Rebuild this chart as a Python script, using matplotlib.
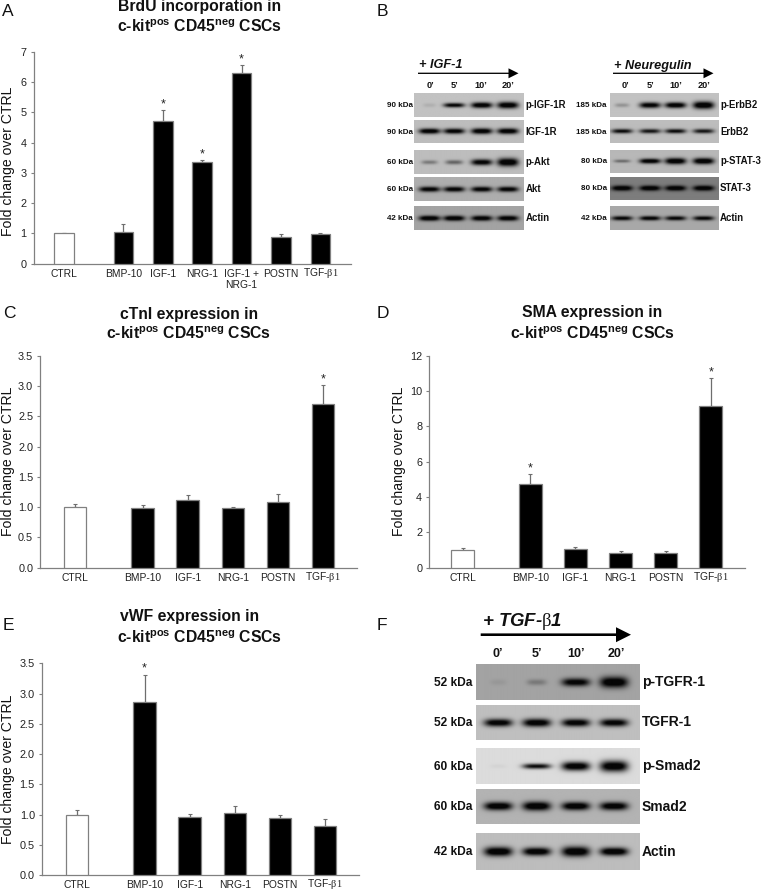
import numpy as np
import matplotlib
matplotlib.use("Agg")
import matplotlib.pyplot as plt
from matplotlib.patches import FancyArrow
from matplotlib.transforms import ScaledTranslation

plt.rcParams['font.family'] = ['Liberation Sans', 'DejaVu Sans']
plt.rcParams['mathtext.fontset'] = 'custom'
plt.rcParams['mathtext.rm'] = 'Liberation Serif'
plt.rcParams['mathtext.it'] = 'Liberation Serif:italic'
plt.rcParams['mathtext.bf'] = 'Liberation Serif:bold'

# bar data
beta = r"TGF-$\mathrm{\beta1}$"
labels_a = ["CTRL", "BMP-10", "IGF-1", "NRG-1", "IGF-1 +\nNRG-1", "POSTN", beta]
vals_a = [1.0, 1.05, 4.70, 3.37, 6.30, 0.89, 0.98]
errs_a = [0.03, 0.25, 0.36, 0.04, 0.25, 0.08, 0.05]
sig_a = [2, 3, 4]

labels_cde = ["CTRL", "BMP-10", "IGF-1", "NRG-1", "POSTN", beta]
vals_c = [1.0, 0.98, 1.12, 0.99, 1.08, 2.71]
errs_c = [0.05, 0.05, 0.08, 0.02, 0.14, 0.30]
sig_c = [5]

vals_d = [1.0, 4.72, 1.05, 0.84, 0.82, 9.18]
errs_d = [0.10, 0.56, 0.15, 0.10, 0.12, 1.53]
sig_d = [1, 5]

vals_e = [1.0, 2.86, 0.96, 1.03, 0.94, 0.82]
errs_e = [0.07, 0.45, 0.06, 0.11, 0.06, 0.11]
sig_e = [1]

# blot data, darkness of each band per lane (0', 5', 10', 20')
times = ["0’", "5’", "10’", "20’"]

names_b1 = ["p-IGF-1R", "IGF-1R", "p-Akt", "Akt", "Actin"]
kda_b1 = ["90 kDa", "90 kDa", "60 kDa", "60 kDa", "42 kDa"]
bands_b1 = [[0.08, 0.85, 0.95, 0.95],
            [0.95, 0.90, 0.95, 0.95],
            [0.30, 0.40, 0.90, 1.00],
            [0.90, 0.90, 0.90, 0.90],
            [1.00, 1.00, 0.95, 0.95]]

names_b2 = ["p-ErbB2", "ErbB2", "p-STAT-3", "STAT-3", "Actin"]
kda_b2 = ["185 kDa", "185 kDa", "80 kDa", "80 kDa", "42 kDa"]
bands_b2 = [[0.20, 0.90, 0.95, 1.00],
            [0.80, 0.75, 0.80, 0.75],
            [0.35, 0.95, 1.00, 1.00],
            [1.00, 1.00, 1.00, 1.00],
            [0.85, 0.90, 0.85, 0.85]]

names_f = ["p-TGFR-1", "TGFR-1", "p-Smad2", "Smad2", "Actin"]
kda_f = ["52 kDa", "52 kDa", "60 kDa", "60 kDa", "42 kDa"]
bands_f = [[0.06, 0.22, 0.90, 1.00],
           [0.92, 0.95, 0.92, 0.90],
           [0.03, 0.80, 0.95, 0.95],
           [0.98, 1.00, 0.98, 0.95],
           [1.00, 0.98, 1.00, 1.00]]

W, H = 761, 890
fig = plt.figure(figsize=(W / 100, H / 100), dpi=100, facecolor='white')


def px_axes(x0, y0, x1, y1):
    return fig.add_axes([x0 / W, 1 - y1 / H, (x1 - x0) / W, (y1 - y0) / H])


grey = '#808080'
overlay = px_axes(0, 0, W, H)
overlay.set_xlim(0, W)
overlay.set_ylim(H, 0)
overlay.axis('off')
overlay.set_zorder(5)


def bar_panel(box, labels, vals, errs, sig, ymax, yticks, fmt, step, ctrl_px, ylab_x, ylab_y):
    x0, y0, x1, y1 = box
    ax = px_axes(x0, y0, x1, y1)
    ax.patch.set_alpha(0)
    pos = np.array([0] + [1.5 + i for i in range(len(vals) - 1)])
    ax.set_xlim((x0 - ctrl_px) / step, (x1 - ctrl_px) / step)
    ax.set_ylim(0, ymax)
    colors = ['white'] + ['black'] * (len(vals) - 1)
    ax.bar(pos, vals, width=0.5, color=colors, edgecolor=grey, linewidth=0.9, zorder=3)
    ax.errorbar(pos, vals, yerr=[np.zeros(len(errs)), errs], fmt='none', ecolor='#6e6e6e',
                elinewidth=0.9, capsize=1.6, capthick=0.8, zorder=2)
    for i in sig:
        ax.annotate("*", (pos[i], vals[i] + errs[i]), xytext=(0, 0), textcoords='offset points',
                    ha='center', va='bottom', fontsize=9, color='#222222')
    for s in ['top', 'right']:
        ax.spines[s].set_visible(False)
    for s in ['left', 'bottom']:
        ax.spines[s].set_color(grey)
        ax.spines[s].set_linewidth(0.9)
    ax.set_yticks(yticks)
    ax.set_yticklabels([fmt % t for t in yticks], fontsize=7.8, color='#222222')
    ax.tick_params(axis='y', length=2.4, width=0.8, color=grey, pad=2.5)
    ax.set_xticks(pos)
    ax.set_xticklabels(labels, fontsize=7.4, color='#222222', linespacing=1.15)
    ax.tick_params(axis='x', length=0, pad=3.5)
    # mathtext box sits lower than plain text, pull the beta label back up
    ax.get_xticklabels()[-1].set_transform(
        ax.get_xticklabels()[-1].get_transform() + ScaledTranslation(0, 2 / 72, fig.dpi_scale_trans))
    ax.set_ylabel("Fold change over CTRL", fontsize=10.1, color='#111111', va='center')
    ax.yaxis.set_label_coords((ylab_x - x0) / (x1 - x0), (y1 - ylab_y) / (y1 - y0))
    return ax


bar_panel((33.5, 51.7, 351, 263.7), labels_a, vals_a, errs_a, sig_a, 7, list(range(8)), "%d", 39.4, 64.3, 8, 161)
half = [0, 0.5, 1, 1.5, 2, 2.5, 3, 3.5]
bar_panel((40, 355.7, 357.3, 567.7), labels_cde, vals_c, errs_c, sig_c, 3.5, half, "%.1f", 45.1, 75, 8, 461)
bar_panel((429, 355.7, 745, 567.7), labels_cde, vals_d, errs_d, sig_d, 12, list(range(0, 13, 2)), "%d", 45.1, 462.7, 399, 461)
bar_panel((41.7, 663.3, 359.3, 875.3), labels_cde, vals_e, errs_e, sig_e, 3.5, half, "%.1f", 45.1, 77, 8, 769)


def title(cx, y1, y2, first, cx2=None):
    overlay.text(cx, y1, first, ha='center', va='center', fontsize=11.3, fontweight='bold', color='#111111')
    overlay.text(cx if cx2 is None else cx2, y2, r"c-kit$^{\mathdefault{pos}}$ CD45$^{\mathdefault{neg}}$ CSCs",
                 ha='center', va='center', fontsize=11.3, fontweight='bold', color='#111111')


title(200, 6.5, 26, "BrdU incorporation in")
title(189.5, 314, 333, "cTnI expression in", 189)
title(592.5, 312.5, 333, "SMA expression in", 593)
title(190, 616.5, 636.5, "vWF expression in", 200)

for letter, lx, ly in [("A", 2, 11), ("B", 377, 11), ("C", 3, 313), ("D", 377, 313), ("E", 3, 626), ("F", 377, 626)]:
    overlay.text(lx, ly, letter, ha='left', va='center', fontsize=12.5, color='#111111')


def blot_strip(box, bg, bands, lanes, band_w, thick):
    x0, y0, x1, y1 = box
    ax = px_axes(x0, y0, x1, y1)
    yy, xx = np.mgrid[y0:y1:0.5, x0:x1:0.5]
    cy = (y0 + y1) / 2
    dark = np.zeros(xx.shape)
    for lane, b, t in zip(lanes, bands, thick):
        w = band_w * (0.55 + 0.45 * min(1, b * 1.5))
        dark += b * np.exp(-np.abs((xx - lane) / w) ** 3.5) * np.exp(-((yy - cy) / t) ** 2)
    img = bg * (1 - np.clip(1.25 * dark, 0, 1)) + 0.02
    ax.imshow(img, cmap='gray', vmin=0, vmax=1, extent=(x0, x1, y1, y0), aspect='auto', interpolation='bilinear')
    ax.axis('off')


def blot_panel(rows, x0, x1, lanes, band_w, bgs, thicks, bands, names, kda, fs_kda, fs_name, kda_x, name_x):
    for (y0, y1), bg, th, b, n, k in zip(rows, bgs, thicks, bands, names, kda):
        blot_strip((x0, y0, x1, y1), bg, b, lanes, band_w, th)
        ym = (y0 + y1) / 2
        overlay.text(kda_x, ym + 0.5, k, ha='right', va='center', fontsize=fs_kda, fontweight='bold', color='#111111')
        overlay.text(name_x, ym, n, ha='left', va='center', fontsize=fs_name, fontweight='bold', color='#111111')


rows_b1 = [(93.3, 116.7), (120, 143.3), (150, 174), (177.3, 201.3), (206, 230)]
rows_b2 = [(93.3, 116.7), (120, 143.3), (149.5, 172.7), (176.7, 200), (206, 230)]
rows_f = [(664, 700), (705, 740), (748.3, 784.3), (789, 824.3), (833.3, 870)]

blot_panel(rows_b1, 414.3, 523.7, [429.5, 454, 481.5, 507.5], 10.5,
           [0.74, 0.72, 0.72, 0.66, 0.62],
           [[2, 2.2, 2.8, 3.2], [2.6, 2.6, 2.8, 2.8], [2, 2.2, 3, 4], [2.6, 2.6, 2.6, 2.6], [2.6, 2.6, 2.6, 2.6]],
           bands_b1, names_b1, kda_b1, 5.8, 6.9, 412.7, 525.5)
blot_panel(rows_b2, 609.7, 718.3, [621.5, 649.5, 675, 703], 10.5,
           [0.74, 0.72, 0.70, 0.47, 0.64],
           [[2, 2.8, 2.8, 3.6], [2.2, 2.2, 2.2, 2.2], [1.6, 2.4, 3, 3], [2.6, 2.6, 2.6, 2.6], [2.2, 2.2, 2.2, 2.2]],
           bands_b2, names_b2, kda_b2, 5.8, 6.9, 607, 720)
blot_panel(rows_f, 475.7, 639, [497.7, 536, 575, 613], 14,
           [0.62, 0.73, 0.84, 0.68, 0.72],
           [[3, 3, 4, 5.5], [3.8, 4, 3.8, 3.8], [2, 2.6, 4.4, 5.5], [4, 4.4, 4, 4], [4.6, 4, 5, 4]],
           bands_f, names_f, kda_f, 8.6, 10, 472, 642)

time_pos_b1 = [430, 454, 481, 508]
time_pos_b2 = [625, 650, 675.5, 703.5]
time_pos_f = [498, 536.5, 575.5, 616]
for tp, ty, fs in [(time_pos_b1, 86, 6.6), (time_pos_b2, 86, 6.6), (time_pos_f, 654, 9)]:
    for lx, lab in zip(tp, times):
        overlay.text(lx, ty, lab, ha='center', va='center', fontsize=fs, fontweight='bold', color='#111111')

overlay.text(419, 65.5, "+ IGF-1", ha='left', va='center', fontsize=9.2, fontweight='bold', style='italic', color='#111111')
overlay.text(614, 65.5, "+ Neuregulin", ha='left', va='center', fontsize=9.2, fontweight='bold', style='italic', color='#111111')
overlay.text(482, 622, r"+ TGF-$\mathrm{\beta}$1", ha='left', va='center', fontsize=13.4, fontweight='bold', style='italic', color='#111111')

for ax0, ax1, ay, lw, hw in [(418, 518.5, 73.3, 1.3, 10), (613, 713.5, 73.3, 1.3, 10), (480.7, 631, 634.7, 2.6, 15)]:
    overlay.add_patch(FancyArrow(ax0, ay, ax1 - ax0, 0, width=lw, head_width=hw, head_length=hw,
                                 length_includes_head=True, color='black', linewidth=0))

fig.savefig("out.png", dpi=100)
